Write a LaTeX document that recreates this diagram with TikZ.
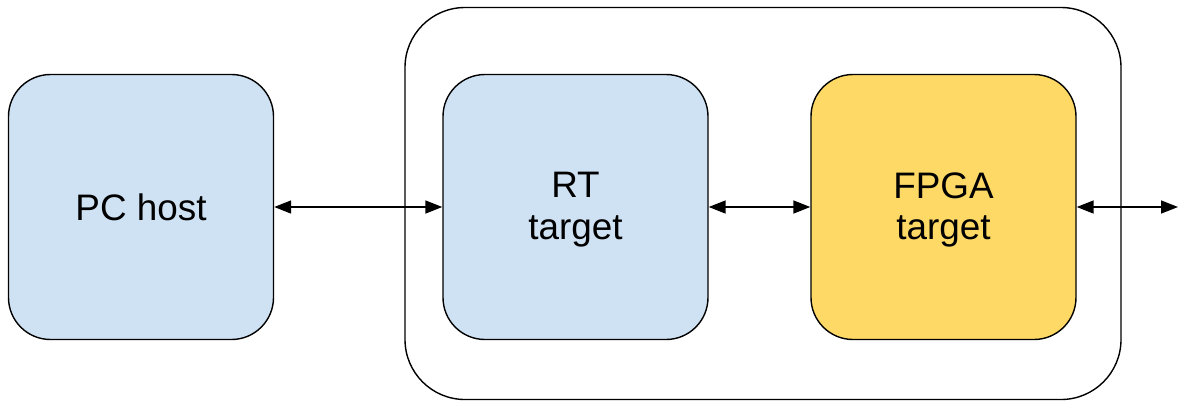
\documentclass[tikz,border=0pt]{standalone}
\usepackage{fontspec}
\setmainfont{Liberation Sans}
\usetikzlibrary{arrows.meta}
\definecolor{boxblue}{HTML}{CFE2F3}
\definecolor{boxyellow}{HTML}{FFD966}
\tikzset{
  unitbox/.style={draw=black, line width=1.4bp, rounded corners=42bp,
    minimum width=265bp, minimum height=265bp, inner sep=0pt, align=center,
    font=\fontsize{37}{42}\selectfont},
  twoline/.style={label={[align=center, font=\fontsize{37}{42}\selectfont, yshift=-3bp, inner sep=0pt]center:#1}},
  board/.style={draw=black, line width=1.4bp, rounded corners=60bp,
    minimum width=716bp, minimum height=392bp, inner sep=0pt},
  link/.style={line width=1.6bp, {Triangle[length=17bp,width=13bp]}-{Triangle[length=17bp,width=13bp]}}
}
\begin{document}
\begin{tikzpicture}[x=1bp,y=-1bp]
\useasboundingbox[fill=white] (0,0) rectangle (1187,409);
\node[board] (bd) at (763,203.5) {};
\node[unitbox, fill=boxblue] (pc) at (141,207) {PC host};
\node[unitbox, fill=boxblue, twoline={RT\\target}] (rt) at (575.5,207) {};
\node[unitbox, fill=boxyellow, twoline={FPGA\\target}] (fpga) at (943.5,207) {};
\coordinate (out) at (1178,207);
\draw[link] (pc.east) -- (rt.west);
\draw[link] (rt.east) -- (fpga.west);
\draw[link] (fpga.east) -- (out);
\end{tikzpicture}
\end{document}
